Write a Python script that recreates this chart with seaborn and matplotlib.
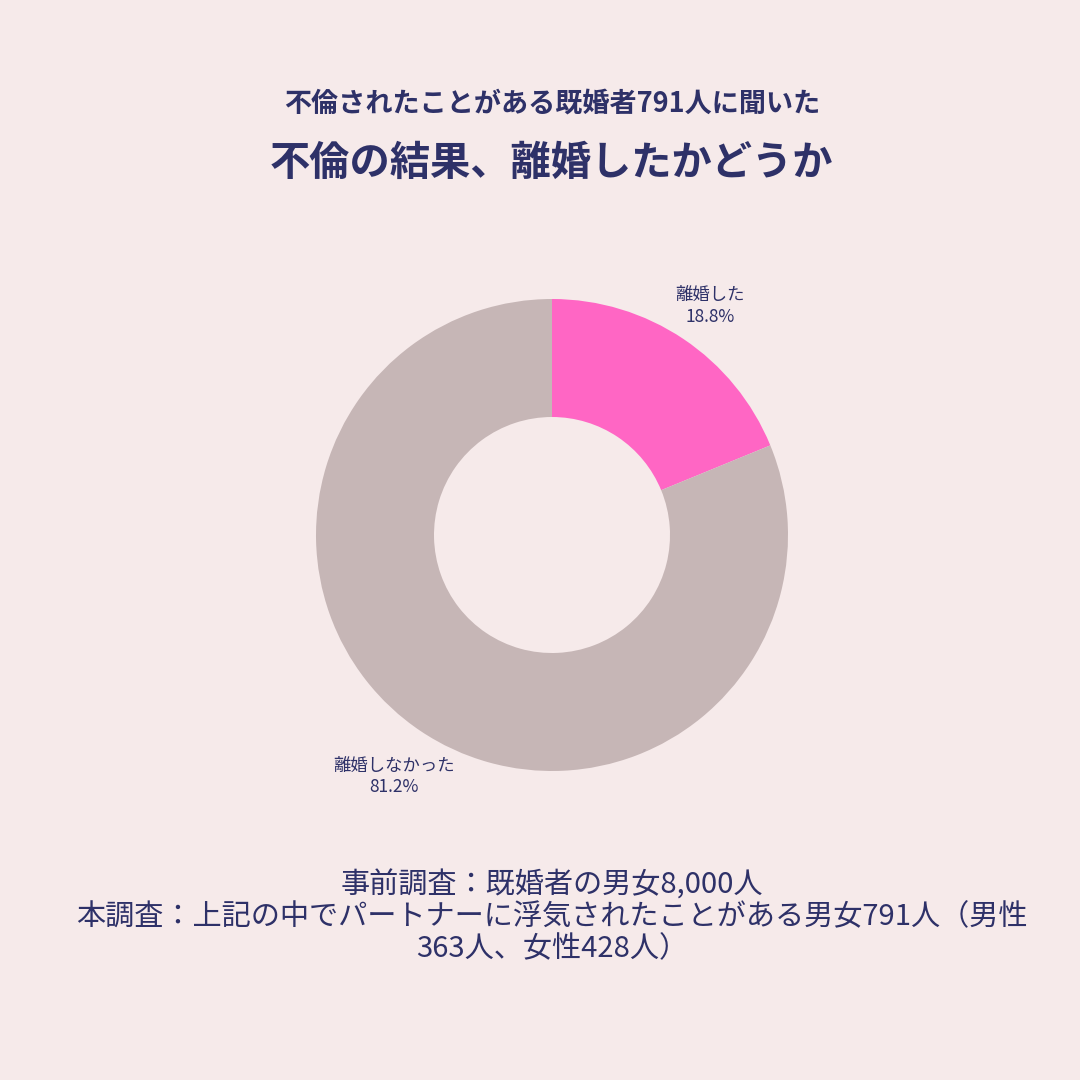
import matplotlib
matplotlib.use("Agg")
import matplotlib.pyplot as plt
import matplotlib.transforms as mtransforms
import seaborn as sns

# data
categories = ["離婚した", "離婚しなかった"]
shares = [18.8, 81.2]
colors = ["#FF66C4", "#C6B6B6"]

subtitle = "不倫されたことがある既婚者791人に聞いた"
title = "不倫の結果、離婚したかどうか"
note = "事前調査：既婚者の男女8,000人\n本調査：上記の中でパートナーに浮気されたことがある男女791人（男性\n363人、女性428人）"

bg = "#F6EAEA"
navy = "#2E3168"

sns.set_theme(style="white")
plt.rcParams['font.family'] = ['Noto Sans CJK JP', 'DejaVu Sans']

fig = plt.figure(figsize=(10.8, 10.8), dpi=100, facecolor=bg)
ax = fig.add_axes([316 / 1080, (1080 - 771) / 1080, 472 / 1080, 472 / 1080])
ax.set_facecolor(bg)

labels = [f"{c}\n{s:.1f}%" for c, s in zip(categories, shares)]
wedges, texts = ax.pie(shares, colors=colors, startangle=90, counterclock=False,
                       labels=labels, labeldistance=1.2,
                       wedgeprops=dict(width=0.5, linewidth=0),
                       textprops=dict(color=navy, fontsize=12.5, linespacing=1.25))
shift = mtransforms.ScaledTranslation(0, -0.06, fig.dpi_scale_trans)
for t in texts:
    t.set_ha("center")
    t.set_va("center")
    t.set_multialignment("center")
    t.set_transform(t.get_transform() + shift)
ax.set_xlim(-1, 1)
ax.set_ylim(-1, 1)
ax.set_aspect("equal")
ax.axis("off")

fig.text(0.511, 1 - 104 / 1080, subtitle, ha="center", va="center",
         fontsize=19.5, fontweight="bold", color=navy)
fig.text(0.511, 1 - 163 / 1080, title, ha="center", va="center",
         fontsize=29, fontweight="bold", color=navy)
fig.text(0.511, 1 - 917 / 1080, note, ha="center", va="center",
         fontsize=21, color=navy, linespacing=1.08, multialignment="center")

fig.savefig("out.png", dpi=100, facecolor=bg)
